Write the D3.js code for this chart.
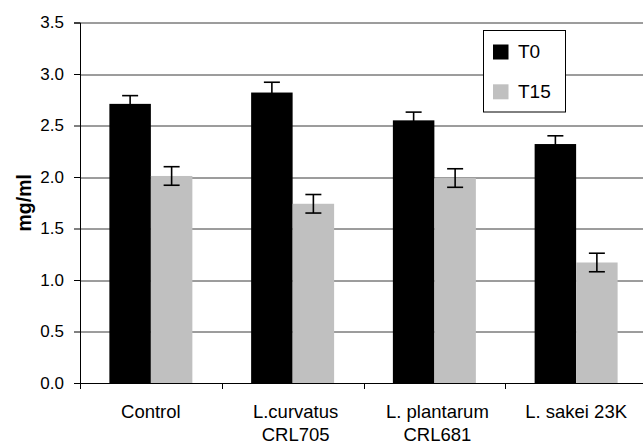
<!DOCTYPE html>
<html>
<head>
<meta charset="utf-8">
<script src="https://cdn.jsdelivr.net/npm/d3@7"></script>
<style>
  body { margin: 0; background: #fff; }
  text { font-family: "Liberation Sans", Arial, sans-serif; fill: #000; }
</style>
</head>
<body>
<div id="wrapper"></div>
<script>
// data
const categories = [["Control"], ["L.curvatus", "CRL705"], ["L. plantarum", "CRL681"], ["L. sakei 23K"]]
const series = ["T0", "T15"]
const t0Values = [2.71, 2.82, 2.55, 2.32]
const t0Errors = [0.08, 0.10, 0.08, 0.08]
const t15Values = [2.01, 1.74, 1.99, 1.17]
const t15Errors = [0.09, 0.09, 0.09, 0.09]
const yTicks = [0, 0.5, 1, 1.5, 2, 2.5, 3, 3.5]
const colors = ["#000000", "#c0c0c0"]

function drawBarChart() {
  let dimensions = {
    width: 643,
    height: 444,
    margin: { top: 22.5, right: -4, bottom: 61, left: 80 },
  }
  dimensions.boundedWidth = dimensions.width - dimensions.margin.left - dimensions.margin.right
  dimensions.boundedHeight = dimensions.height - dimensions.margin.top - dimensions.margin.bottom

  const wrapper = d3.select("#wrapper")
    .append("svg")
    .attr("width", dimensions.width)
    .attr("height", dimensions.height)

  const bounds = wrapper.append("g")
    .attr("transform", `translate(${dimensions.margin.left},${dimensions.margin.top})`)

  const catKeys = categories.map(d => d.join(" "))
  const rows = catKeys.map((k, i) => ({
    key: k,
    bars: [
      { s: "T0", v: t0Values[i], e: t0Errors[i] },
      { s: "T15", v: t15Values[i], e: t15Errors[i] },
    ],
  }))

  const xScaler = d3.scaleBand()
    .domain(catKeys)
    .range([0, dimensions.boundedWidth])
    .padding(0)

  const innerScaler = d3.scaleBand()
    .domain(series)
    .range([0, xScaler.bandwidth()])
    .paddingInner(0)
    .paddingOuter(0.708)

  const yScaler = d3.scaleLinear()
    .domain([0, 3.5])
    .range([dimensions.boundedHeight, 0])

  // gridlines
  bounds.append("g")
    .selectAll("line")
    .data(yTicks.filter(d => d > 0))
    .join("line")
    .attr("x1", 0)
    .attr("x2", dimensions.boundedWidth)
    .attr("y1", d => Math.round(yScaler(d)) + 0.5)
    .attr("y2", d => Math.round(yScaler(d)) + 0.5)
    .attr("stroke", "#3a3a3a")
    .attr("stroke-width", 1)

  // bars
  const groups = bounds.selectAll(".group")
    .data(rows)
    .join("g")
    .attr("class", "group")
    .attr("transform", d => `translate(${xScaler(d.key)},0)`)

  groups.selectAll("rect")
    .data(d => d.bars)
    .join("rect")
    .attr("x", d => innerScaler(d.s))
    .attr("width", innerScaler.bandwidth())
    .attr("y", d => yScaler(d.v))
    .attr("height", d => dimensions.boundedHeight - yScaler(d.v))
    .attr("fill", (d, i) => colors[i])

  // error bars
  const capHalf = 8
  const err = groups.selectAll(".err")
    .data(d => d.bars)
    .join("g")
    .attr("class", "err")
    .attr("transform", d => `translate(${innerScaler(d.s) + innerScaler.bandwidth() / 2},0)`)
  err.append("line")
    .attr("y1", d => yScaler(d.v + d.e))
    .attr("y2", d => yScaler(d.v - d.e))
  err.append("line")
    .attr("x1", -capHalf).attr("x2", capHalf)
    .attr("y1", d => yScaler(d.v + d.e))
    .attr("y2", d => yScaler(d.v + d.e))
  err.append("line")
    .attr("x1", -capHalf).attr("x2", capHalf)
    .attr("y1", d => yScaler(d.v - d.e))
    .attr("y2", d => yScaler(d.v - d.e))
  err.selectAll("line")
    .attr("stroke", "#000")
    .attr("stroke-width", 1.6)

  // y axis
  const yAxisGenerator = d3.axisLeft(yScaler)
    .tickValues(yTicks)
    .tickFormat(d3.format(".1f"))
    .tickSize(6)
    .tickPadding(10)
  const yAxis = bounds.append("g").call(yAxisGenerator)
  yAxis.select(".domain").attr("stroke", "#000").attr("d", `M-6,0.5H0.5V${dimensions.boundedHeight}`)
  yAxis.selectAll(".tick line").attr("stroke", "#000")
  yAxis.selectAll("text")
    .style("font-size", "17px")
    .style("font-family", "'Liberation Sans', Arial, sans-serif")
    .attr("fill", "#000")

  // x axis line and boundary ticks
  const xAxis = bounds.append("g")
    .attr("transform", `translate(0,${dimensions.boundedHeight})`)
  xAxis.append("line")
    .attr("x1", 0).attr("x2", dimensions.boundedWidth)
    .attr("y1", 0.5).attr("y2", 0.5)
    .attr("stroke", "#000")
  xAxis.selectAll(".bt")
    .data(catKeys)
    .join("line")
    .attr("class", "bt")
    .attr("x1", d => Math.round(xScaler(d)) + 0.5)
    .attr("x2", d => Math.round(xScaler(d)) + 0.5)
    .attr("y1", 0).attr("y2", 6)
    .attr("stroke", "#000")

  const labels = xAxis.selectAll(".cat")
    .data(categories)
    .join("text")
    .attr("class", "cat")
    .attr("text-anchor", "middle")
    .style("font-size", "18.5px")
  labels.selectAll("tspan")
    .data((d, i) => d.map(t => ({ t, i })))
    .join("tspan")
    .attr("x", d => xScaler(catKeys[d.i]) + xScaler.bandwidth() / 2 + (categories[d.i].length > 1 ? 3 : 0))
    .attr("y", (d, j) => 35 + j * 22.7)
    .text(d => d.t)

  // y label
  wrapper.append("text")
    .attr("transform", `translate(31,${dimensions.margin.top + dimensions.boundedHeight / 2}) rotate(-90)`)
    .attr("text-anchor", "middle")
    .style("font-size", "19.5px")
    .style("font-weight", "bold")
    .text("mg/ml")

  // legend
  const legend = wrapper.append("g")
    .attr("transform", "translate(483.5,30.5)")
  legend.append("rect")
    .attr("width", 82)
    .attr("height", 81.5)
    .attr("fill", "#fff")
    .attr("stroke", "#000")
  const items = legend.selectAll(".item")
    .data(series)
    .join("g")
    .attr("class", "item")
    .attr("transform", (d, i) => `translate(9.5,${14 + i * 39.8})`)
  items.append("rect")
    .attr("width", 15.5)
    .attr("height", 15)
    .attr("fill", (d, i) => colors[i])
  items.append("text")
    .attr("x", 25)
    .attr("y", 13.5)
    .style("font-size", "19px")
    .text(d => d)
}
drawBarChart()
</script>
</body>
</html>
